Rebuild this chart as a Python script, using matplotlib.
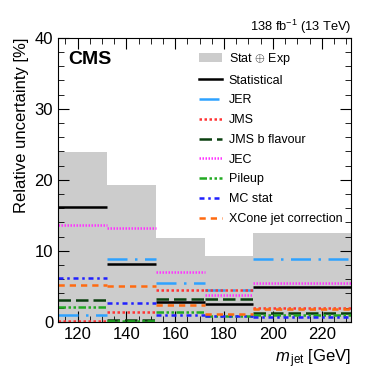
import matplotlib
matplotlib.use('Agg')
import matplotlib.pyplot as plt
from matplotlib.patches import Patch
from matplotlib.lines import Line2D
from matplotlib.ticker import MultipleLocator
import numpy as np

plt.rcParams['font.family'] = ['Liberation Sans', 'DejaVu Sans']
plt.rcParams['mathtext.fontset'] = 'custom'
plt.rcParams['mathtext.rm'] = 'Liberation Sans'
plt.rcParams['mathtext.it'] = 'Liberation Sans:italic'

# bin edges of m_jet [GeV]
edges = [112, 132, 152, 172, 192, 232]

# relative uncertainties [%] per bin
total = [23.9, 19.3, 11.8, 9.3, 12.5]
statistical = [16.1, 8.2, 2.85, 2.5, 4.85]
jer = [0.95, 8.9, 5.45, 4.5, 8.9]
jms = [0.1, 1.4, 4.5, 4.5, 1.9]
jms_b = [3.05, 0.25, 3.2, 3.15, 1.2]
jec = [13.7, 13.2, 7.0, 3.75, 5.4]
pileup = [2.05, 0.15, 1.4, 0.75, 0.95]
mc_stat = [6.15, 2.7, 0.9, 0.85, 0.6]
xcone = [5.2, 5.0, 2.3, 1.15, 1.85]

lo = edges[:-1]
hi = edges[1:]
widths = np.diff(edges)

fig = plt.figure(figsize=(3.9, 3.75), dpi=100)
ax = fig.add_axes([0.149, 0.142, 0.751, 0.757])

ax.bar(lo, total, width=widths, align='edge', color='#cccccc', linewidth=0)

series = [
    (statistical, 'Statistical', 'black', '-'),
    (jer, 'JER', '#2ea2ff', (0, (8, 3, 1, 3))),
    (jms, 'JMS', '#ff3333', (0, (1, 1))),
    (jms_b, 'JMS b flavour', '#0b4010', (0, (5, 2))),
    (jec, 'JEC', '#ff33ff', (0, (0.6, 0.6))),
    (pileup, 'Pileup', '#22aa22', (0, (3, 1, 1, 1, 1, 1))),
    (mc_stat, 'MC stat', '#2020ff', (0, (2, 1.5, 1, 1.5))),
    (xcone, 'XCone jet correction', '#ff6a10', (0, (2.5, 2))),
]

handles = [Patch(facecolor='#cccccc', edgecolor='none', label=r'Stat $\oplus$ Exp')]
for vals, label, col, ls in series:
    ax.hlines(vals, lo, hi, colors=col, linestyles=ls, linewidth=1.8)
    handles.append(Line2D([], [], color=col, linestyle=ls, linewidth=1.8, label=label))

ax.set_xlim(112, 232)
ax.set_ylim(0, 40)
ax.xaxis.set_major_locator(MultipleLocator(20))
ax.xaxis.set_minor_locator(MultipleLocator(5))
ax.yaxis.set_major_locator(MultipleLocator(10))
ax.yaxis.set_minor_locator(MultipleLocator(2))
ax.tick_params(which='both', direction='in', top=True, right=True, labelsize=12)
ax.tick_params(which='major', length=8)
ax.tick_params(which='minor', length=4)

ax.set_ylabel('Relative uncertainty [%]', fontsize=12, loc='top')
ax.set_xlabel(r'$m_{\,\mathrm{jet}}$ [GeV]', fontsize=12, loc='right')

ax.text(0.035, 0.955, 'CMS', transform=ax.transAxes, fontsize=14,
        fontweight='bold', va='top', ha='left')
ax.text(1.0, 1.008, r'138 fb$^{-1}$ (13 TeV)', transform=ax.transAxes,
        fontsize=9.3, ha='right', va='bottom')

ax.legend(handles=handles, loc='upper right', bbox_to_anchor=(1.0, 0.985),
          frameon=False, fontsize=9, handlelength=1.85, handletextpad=0.5,
          labelspacing=0.62, borderaxespad=0.3)

fig.savefig('out.png', dpi=100)
